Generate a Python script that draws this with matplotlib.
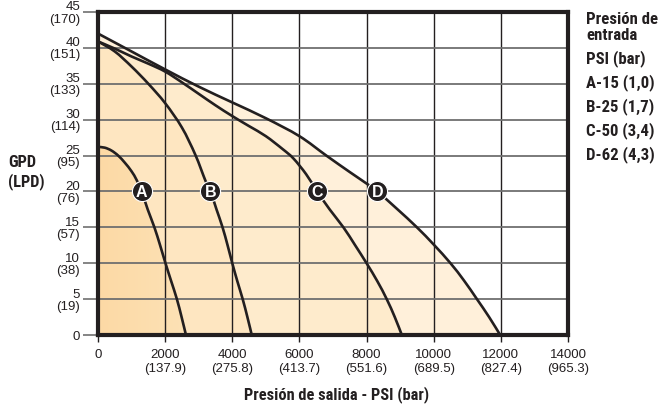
import matplotlib
matplotlib.use("Agg")
import matplotlib.pyplot as plt
import numpy as np
from matplotlib.colors import LinearSegmentedColormap
from matplotlib.path import Path
from matplotlib.patches import PathPatch
from matplotlib import font_manager as fm

# ---------------- data ----------------
# Curve A: inlet 15 PSI
a_psi = [0, 200, 400, 600, 800, 1000, 1150, 1300, 1480, 1680, 1850, 2010, 2180, 2350, 2490, 2620]
a_gpd = [26.2, 26.1, 25.7, 25.0, 24.0, 22.8, 21.6, 20.0, 17.5, 15.0, 12.5, 10.0, 7.5, 5.0, 2.5, 0.0]
# Curve B: inlet 25 PSI
b_psi = [0, 500, 1000, 1500, 2000, 2500, 2900, 3200, 3350, 3530, 3710, 3860, 4000, 4150, 4310, 4450, 4580]
b_gpd = [40.9, 39.5, 37.4, 35.0, 32.3, 28.9, 25.1, 21.5, 20.0, 17.5, 15.0, 12.5, 10.0, 7.5, 5.0, 2.5, 0.0]
# Curve C: inlet 50 PSI
c_psi = [0, 500, 1000, 1500, 2000, 2500, 3000, 3500, 4000, 4500, 5000, 5500, 5820, 6200, 6530,
         6900, 7310, 7660, 8000, 8320, 8600, 8840, 9050]
c_gpd = [40.9, 39.9, 38.8, 37.8, 36.7, 35.2, 33.6, 32.0, 30.5, 29.1, 27.7, 25.9, 24.6, 22.4, 20.0,
         17.5, 15.0, 12.5, 10.0, 7.5, 5.0, 2.5, 0.0]
# Curve D: inlet 62 PSI
d_psi = [0, 1000, 2000, 3000, 4000, 5000, 6000, 6800, 7500, 8000, 8320, 8900, 9500, 10000,
         10500, 10900, 11280, 11650, 11980]
d_gpd = [42.0, 39.5, 37.0, 34.6, 32.4, 30.2, 27.7, 25.0, 22.7, 21.1, 20.0, 17.6, 15.0, 12.6,
         10.0, 7.6, 5.05, 2.5, 0.0]

curve_names = ["A", "B", "C", "D"]
label_psi = [1300, 3350, 6520, 8320]
label_gpd = [20, 20, 20, 20]

x_ticks = [0, 2000, 4000, 6000, 8000, 10000, 12000, 14000]
x_bar = ["", "137.9", "275.8", "413.7", "551.6", "689.5", "827.4", "965.3"]
y_ticks = [0, 5, 10, 15, 20, 25, 30, 35, 40, 45]
y_lpd = ["", "19", "38", "57", "76", "95", "114", "133", "151", "170"]

legend_lines = ["Presión de", "entrada", "PSI (bar)", "A-15 (1,0)", "B-25 (1,7)",
                "C-50 (3,4)", "D-62 (4,3)"]

# ---------------- fonts ----------------
def find_condensed_bold():
    prefs = ["liberationsansnarrow-bold.", "notosans-condensedbold.", "robotocondensed-bold.",
             "dejavusanscondensed-bold.", "opensans-condensedbold."]
    files = [f.fname for f in fm.fontManager.ttflist]
    low = {p.split("/")[-1].lower().replace(" ", "").replace("_", ""): p for p in files}
    for pref in prefs:
        for k, p in low.items():
            if k.startswith(pref):
                return p
    for f in fm.fontManager.ttflist:
        n = f.fname.lower()
        if ("condensed" in n or "narrow" in n) and "bold" in n and "italic" not in n \
                and "oblique" not in n and "semibold" not in n and "extra" not in n:
            return f.fname
    return None

cond_file = find_condensed_bold()

def cond(size):
    if cond_file:
        return fm.FontProperties(fname=cond_file, size=size)
    return fm.FontProperties(family="DejaVu Sans", weight="bold", stretch="condensed", size=size)

# ---------------- style ----------------
INK = "#231f20"
REG = ["Liberation Sans", "DejaVu Sans"]
fill_cols = ["#FDDCAA", "#FEE6C1", "#FEEBCC", "#FFF0DA"]

fig = plt.figure(figsize=(6.6, 4.12), dpi=100)
W, H = 660, 412
ax = fig.add_axes([98 / W, 1 - 335 / H, 470 / W, 323 / H])
ax.set_xlim(0, 14000)
ax.set_ylim(0, 45)


def smooth_path(xs, ys, close=False):
    """Cubic Bezier path (Catmull-Rom tangents) through the read points."""
    P = np.column_stack([xs, ys]).astype(float)
    n = len(P)
    verts = [P[0]]
    codes = [Path.MOVETO]
    for i in range(n - 1):
        p0 = P[i - 1] if i > 0 else P[i]
        p1, p2 = P[i], P[i + 1]
        p3 = P[i + 2] if i + 2 < n else P[i + 1]
        c1 = p1 + (p2 - p0) / 6.0
        c2 = p2 - (p3 - p1) / 6.0
        verts += [c1, c2, p2]
        codes += [Path.CURVE4] * 3
    if close:
        verts += [(P[-1][0], 0), (0, 0), (0, 0)]
        codes += [Path.LINETO, Path.LINETO, Path.CLOSEPOLY]
    return Path(verts, codes)


curves = [(a_psi, a_gpd), (b_psi, b_gpd), (c_psi, c_gpd), (d_psi, d_gpd)]

# fills, lightest (D) first
for (xs, ys), col in list(zip(curves, fill_cols))[::-1]:
    ax.add_patch(PathPatch(smooth_path(xs, ys, close=True), fc=col, ec="none", lw=0, zorder=1))

# gradient inside region A
grad = np.linspace(0, 1, 256).reshape(1, -1)
cmap = LinearSegmentedColormap.from_list("g", ["#FCD9A5", "#FDE2B6"])
clip = PathPatch(smooth_path(a_psi, a_gpd, close=True), fc="none", ec="none",
                 transform=ax.transData)
im = ax.imshow(grad, cmap=cmap, aspect="auto", extent=[0, 2700, 0, 27], zorder=1.2,
               interpolation="bilinear")
im.set_clip_path(clip)
ax.set_xlim(0, 14000)
ax.set_ylim(0, 45)

# grid
for xv in x_ticks[1:-1]:
    ax.axvline(xv, color=INK, lw=1.0, zorder=2)
for yv in y_ticks[1:-1]:
    ax.axhline(yv, color="#6f6f6f", lw=1.3, zorder=2)

# curves
for xs, ys in curves:
    ax.add_patch(PathPatch(smooth_path(xs, ys), fc="none", ec=INK, lw=1.9, zorder=3))

# circled labels
for name, lx, ly in zip(curve_names, label_psi, label_gpd):
    ax.plot(lx, ly, "o", ms=14.5, mfc=INK, mec="white", mew=0.8, zorder=4)
    ax.text(lx, ly, name, color="white", ha="center", va="center_baseline",
            fontsize=11.5, fontweight="bold", family=REG, zorder=5)

# spines
for s in ax.spines.values():
    s.set_linewidth(3)
    s.set_color(INK)
    s.set_zorder(6)

# ticks
ax.set_xticks(x_ticks, labels=[str(v) if b == "" else f"{v}\n({b})" for v, b in zip(x_ticks, x_bar)])
ax.set_yticks(y_ticks, labels=[""] * len(y_ticks))
ax.tick_params(axis="x", direction="out", length=5, width=1, color=INK, pad=5,
               labelsize=9.5, labelcolor=INK)
ax.tick_params(axis="y", direction="out", length=10.8, width=1.2, color="#6f6f6f", pad=2)
for lab in ax.get_xticklabels():
    lab.set_family(REG)
    lab.set_linespacing(1.2)
for v, l in zip(y_ticks, y_lpd):
    txt = f"{v}\n({l})" if l else f"{v}"
    ax.annotate(txt, xy=(0, v), xycoords=("axes fraction", "data"),
                xytext=(-13.0, 0), textcoords="offset points", ha="right",
                va="center_baseline", multialignment="right", linespacing=1.0,
                fontsize=9.5, family=REG, color=INK, annotation_clip=False)

renderer = fig.canvas.get_renderer()


def fit_width(t, target_px):
    w = t.get_window_extent(renderer).width
    t.set_fontsize(t.get_fontsize() * target_px / w)


# axis titles
xl = fig.text(337 / W, 1 - 395 / H, "Presión de salida - PSI (bar)", ha="center", va="center",
              fontproperties=cond(12), color=INK)
fit_width(xl, 186)
yl = fig.text(8 / W, 1 - 172.5 / H, "GPD\n(LPD)", ha="left", va="center", linespacing=1.25,
              fontproperties=cond(12), color=INK)
fit_width(yl, 37)

# legend text on the right
leg_y = [19, 36, 59, 83, 107, 131, 155]
leg_texts = []
for txt, yy in zip(legend_lines, leg_y):
    leg_texts.append(fig.text(586 / W, 1 - yy / H, txt, ha="left", va="center",
                              fontproperties=cond(12), color=INK))
w0 = leg_texts[0].get_window_extent(renderer).width
new_size = 12 * 72 / w0
for t in leg_texts:
    t.set_fontsize(new_size)

fig.savefig("out.png", dpi=100)
